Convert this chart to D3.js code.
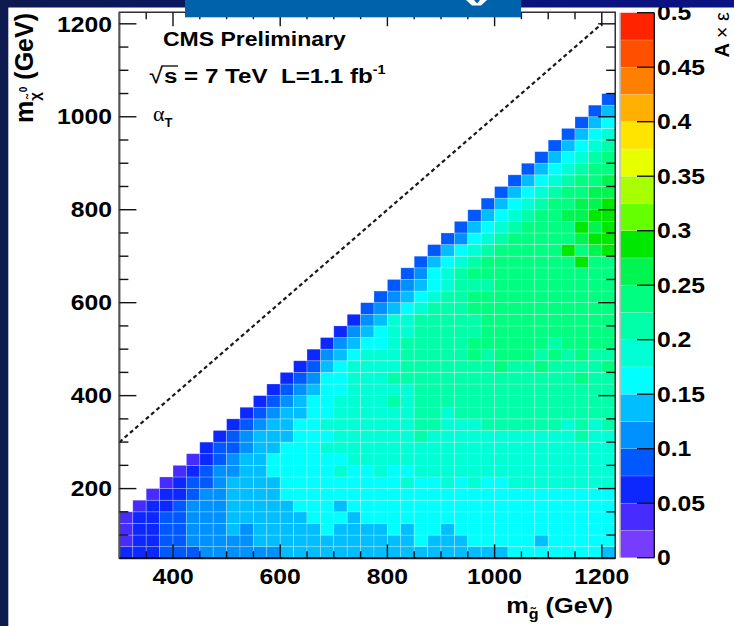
<!DOCTYPE html>
<html><head><meta charset="utf-8">
<script src="https://cdn.jsdelivr.net/npm/d3@7"></script>
<style>body{margin:0;background:#fff;}svg{display:block}</style>
</head><body><svg id="c" width="734" height="626"></svg>
<script>
// ---------------- data ----------------
const mGluino = [300,325,350,375,400,425,450,475,500,525,550,575,600,625,650,675,700,725,750,775,800,825,850,875,900,925,950,975,1000,1025,1050,1075,1100,1125,1150,1175,1200];
const mLSP = [50,75,100,125,150,175,200,225,250,275,300,325,350,375,400,425,450,475,500,525,550,575,600,625,650,675,700,725,750,775,800,825,850,875,900,925,950,975,1000,1025];
const binWidth = 25;
const zLevels = [0,0.025,0.05,0.075,0.1,0.125,0.15,0.175,0.2,0.225,0.25,0.275,0.3,0.325,0.35,0.375,0.4,0.425,0.45,0.475,0.5];
const zPalette = ["#783cff","#482cff","#0c28ff","#0058ff","#0091ff","#00beff","#00ffff","#00ffd4","#00ffa8","#00ff80",
                  "#00f550","#00e800","#66ff00","#a8ff00","#e8ff00","#ffe400","#ffb000","#ff8000","#ff5000","#ff2400"];
const zTicks = [0,0.05,0.1,0.15,0.2,0.25,0.3,0.35,0.4,0.45,0.5];
const zTickLabels = ["0","0.05","0.1","0.15","0.2","0.25","0.3","0.35","0.4","0.45","0.5"];
const xMajorTicks = [400,600,800,1000,1200];
const xMinorTicks = [350,450,500,550,650,700,750,850,900,950,1050,1100,1150];
const yMajorTicks = [200,400,600,800,1000,1200];
const yMinorTicks = [100,150,250,300,350,450,500,550,650,700,750,850,900,950,1050,1100,1150];
const diagonal = [[300,300],[1200,1200]];
// efficiency contour band per cell (0-9,a,b = band index of zLevels), rows from mLSP=50 upward,
// each row right-aligned so that its last cell is mGluino=1200
const effBandRows = [
"222 333 44 4444 555555 5 5555555555 6666666 5",
"1 22 33 444 44 555555555 555 6 555 66666 5 66666",
"1 22 33 4 44 5 4 5555 5 6 55 5 5 6 5 66 5 666666666666",
"1 22 33 444 5555 55 666 5 6 666666666666666666",
"1 22 3 444 5555 5 666 5 66 666666666666666666",
"1 22 3 44 5555 6666666 666666666666666666",
"1 2 33 4 5555 666666 6 66 7 66 7 6 7 66 77777777",
"1 2 3 4 4 55 66666 7 6 6 7 66 777777777777777",
"1 2 3 4 55 666666 7 7 777777777777777777",
"2 3 3 4 55 666 7777 777777777777777777",
"2 3 4 555 666 777 777 8 77777777777 8 77",
"2 3 4 55 66 7777 777 88 777 888888 7 8 7 8",
"2 3 4 55 66 777 777 88 7 888888888888",
"2 3 4 5 66 777 7 8 7 888888888888888",
"2 3 4 5 66 77 777 888888888888888",
"2 3 4 6 6 7 7 7 88 888888888888 9 88",
"2 3 5 6 7 7 77 8888888 9 88 9 8888 9",
"2 4 5 6 7 77 88888 9 8 999 8 9 8 9 88",
"2 4 5 6 6 7 88888 999999 8 9999",
"2 4 5 6 77 88888 9999999999",
"2 4 5 7 7 88888 9999999999",
"3 4 5 6 7 888 99999999999",
"3 4 5 6 7 88 99999999999",
"3 4 5 6 7 888 999999999",
"3 4 6 7 8 99999999999",
"3 5 6 7 8 9999999 b 99",
"3 5 6 7 8 99999 b 9 a b",
"3 4 6 7 8 99999 a b b",
"3 5 6 7 8 9999 b a b",
"3 5 6 7 8 99 aa bb",
"3 5 6 7 8 99 aa b",
"3 5 6 7 8 99 aa",
"3 5 6 7 8 99 a",
"3 5 6 7 8 99",
"3 5 6 7 8 9",
"3 5 6 7 8",
"3 5 6 7",
"3 5 6",
"3 5",
"3"
];

// ---------------- drawing ----------------
const svg = d3.select("#c");
const FONT = "'Liberation Sans', Arial, Helvetica, sans-serif";
const SX = 1.15; // horizontal stretch of the original picture

const x = d3.scaleLinear().domain([300, 1225]).range([119.4, 615.2]);
const y = d3.scaleLinear().domain([50, 1225]).range([558.3, 12.2]);
const z = d3.scaleLinear().domain([0, 0.5]).range([557.7, 12.7]);
const color = d3.scaleQuantize().domain([0, 0.5]).range(zPalette);

// cells
const cells = [];
effBandRows.forEach((row, j) => {
  const s = row.replace(/[ .]/g, "");
  const start = mGluino.length - s.length;
  for (let k = 0; k < s.length; k++) {
    const b = parseInt(s[k], 16);
    cells.push({g: mGluino[start + k], l: mLSP[j], v: (zLevels[b] + zLevels[b + 1]) / 2});
  }
});
svg.append("g").selectAll("rect").data(cells).join("rect")
  .attr("x", d => x(d.g)).attr("y", d => y(d.l + binWidth))
  .attr("width", d => x(d.g + binWidth) - x(d.g))
  .attr("height", d => y(d.l) - y(d.l + binWidth))
  .attr("fill", d => color(d.v))
  .attr("stroke", "rgba(255,255,255,0.35)").attr("stroke-width", 0.7);

// diagonal
svg.append("path").datum(diagonal)
  .attr("d", d3.line().x(d => x(d[0])).y(d => y(d[1])))
  .attr("stroke", "#1a1a1a").attr("stroke-width", 2.2).attr("stroke-dasharray", "4,3").attr("fill", "none");

// frame
const X0 = x(300), X1 = x(1225), Y0 = y(50), Y1 = y(1225);
svg.append("rect").attr("x", X0).attr("y", Y1).attr("width", X1 - X0).attr("height", Y0 - Y1)
  .attr("fill", "none").attr("stroke", "#111").attr("stroke-width", 1.3);
svg.append("line").attr("x1", X0).attr("x2", X0).attr("y1", Y1).attr("y2", Y0).attr("stroke", "#555").attr("stroke-width", 2);
svg.append("line").attr("x1", X0).attr("x2", X1).attr("y1", Y0).attr("y2", Y0).attr("stroke", "#111").attr("stroke-width", 2);

// ticks
const tk = svg.append("g").attr("stroke", "#111").attr("stroke-width", 1.4);
function xt(list, len) {
  list.forEach(v => {
    tk.append("line").attr("x1", x(v)).attr("x2", x(v)).attr("y1", Y0).attr("y2", Y0 - len);
    tk.append("line").attr("x1", x(v)).attr("x2", x(v)).attr("y1", Y1).attr("y2", Y1 + len);
  });
}
function yt(list, len) {
  list.forEach(v => {
    tk.append("line").attr("y1", y(v)).attr("y2", y(v)).attr("x1", X0).attr("x2", X0 + len);
    tk.append("line").attr("y1", y(v)).attr("y2", y(v)).attr("x1", X1).attr("x2", X1 - len);
  });
}
xt(xMajorTicks, 14); xt(xMinorTicks, 7);
yt(yMajorTicks, 17); yt(yMinorTicks, 9);

// stretched text helper
function st(px, py, str, size, anchor, weight) {
  return svg.append("text").attr("transform", `translate(${px},${py}) scale(${SX},1)`)
    .attr("font-family", FONT).attr("font-size", size).attr("font-weight", weight || "bold")
    .attr("text-anchor", anchor || "start").attr("fill", "#000").text(str);
}
xMajorTicks.forEach(v => st(x(v), 583.5, String(v), 21.5, "middle"));
yMajorTicks.forEach(v => st(112, y(v) + 7.7, String(v), 21.5, "end"));

// colour bar
const cb = svg.append("g");
zPalette.forEach((c, b) => {
  cb.append("rect").attr("x", 620.5).attr("width", 33.8)
    .attr("y", z(zLevels[b + 1])).attr("height", z(zLevels[b]) - z(zLevels[b + 1]))
    .attr("fill", c).attr("stroke", "rgba(255,255,255,0.25)").attr("stroke-width", 0.6);
});
cb.append("line").attr("x1", 620).attr("x2", 620).attr("y1", z(0.5)).attr("y2", z(0)).attr("stroke", "#999").attr("stroke-width", 1);
cb.append("line").attr("x1", 654.3).attr("x2", 654.3).attr("y1", z(0.5)).attr("y2", z(0)).attr("stroke", "#111").attr("stroke-width", 1.4);
zTicks.forEach((v, i) => {
  cb.append("line").attr("x1", 637).attr("x2", 654.3).attr("y1", z(v)).attr("y2", z(v)).attr("stroke", "#111").attr("stroke-width", 1.4);
  st(657, z(v) + 7.7, zTickLabels[i], 21.5, "start");
});

// labels inside frame
st(163, 46, "CMS Preliminary", 20, "start");
st(149, 83, "\u221A", 22, "start", "normal");
svg.append("line").attr("x1", 161.5).attr("x2", 178).attr("y1", 66).attr("y2", 66).attr("stroke", "#000").attr("stroke-width", 1.3);
const lumi = st(164, 83, "s = 7 TeV\u00A0\u00A0L=1.1 fb", 21, "start");
lumi.append("tspan").attr("font-size", 12.5).attr("dy", -9).text("-1");
svg.append("text").attr("x", 153).attr("y", 121).attr("font-family", "'Liberation Serif', 'Times New Roman', serif")
  .attr("font-size", 22).attr("text-anchor", "start").text("\u03B1")
  .append("tspan").attr("font-family", FONT).attr("font-weight", "bold").attr("font-size", 13).attr("dy", 6).text("T");

// x axis title
const xtit = st(613, 613, "", 22, "end");
xtit.append("tspan").text("m");
xtit.append("tspan").attr("font-size", 14).attr("dy", 6).text("g\u0303");
xtit.append("tspan").attr("dy", -6).text(" (GeV)");

// y axis title
const ytit = svg.append("text").attr("transform", "translate(33,13) rotate(-90)")
  .attr("font-family", FONT).attr("font-weight", "bold").attr("font-size", 25).attr("text-anchor", "end");
ytit.append("tspan").text("m");
ytit.append("tspan").attr("font-size", 15).attr("dy", 7).text("\u03C7\u0303");
ytit.append("tspan").attr("font-size", 10).attr("dy", -13).text("0");
ytit.append("tspan").attr("dy", 6).text(" (GeV)");

// z axis title
const ztit = svg.append("text").attr("transform", "translate(728.5,12) rotate(-90)")
  .attr("font-family", FONT).attr("font-weight", "bold").attr("font-size", 20).attr("text-anchor", "end");
ztit.append("tspan").text("A ");
ztit.append("tspan").attr("font-weight", "normal").text("\u00D7 \u03B5");

// slide decoration: border strips and title banner
const defs = svg.append("defs");
const grad = defs.append("linearGradient").attr("id", "topg").attr("x1", "0").attr("x2", "1").attr("y1", "0").attr("y2", "0");
grad.append("stop").attr("offset", "0").attr("stop-color", "#0d1b4e");
grad.append("stop").attr("offset", "0.6").attr("stop-color", "#0a1478");
grad.append("stop").attr("offset", "1").attr("stop-color", "#0b1282");
svg.append("rect").attr("x", 0).attr("y", 0).attr("width", 734).attr("height", 7.5).attr("fill", "url(#topg)");
svg.append("rect").attr("x", 0).attr("y", 0).attr("width", 8.3).attr("height", 626).attr("fill", "#0d1b4e");
svg.append("rect").attr("x", 185).attr("y", 0).attr("width", 336).attr("height", 17.3).attr("fill", "#0062ab");
// white fragment of the cut-off slide title showing at the banner's lower edge
svg.append("path").attr("d", "M466,0 L474,0 L477,3.5 L480,0 L487,0 L481,5.5 L472,5.5 Z").attr("fill", "#fff");
</script>
</body></html>
